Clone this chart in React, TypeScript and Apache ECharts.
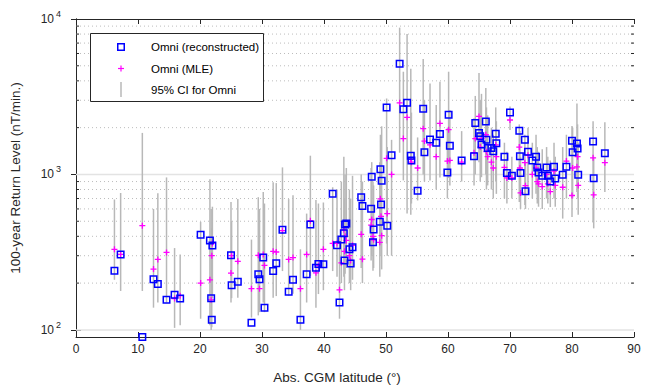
import React, { useEffect, useRef } from 'react';
import * as echarts from 'echarts';

const latitude = [
  6.2, 7.2, 10.7, 12.5, 13.2, 14.6, 15.9, 16.8, 20.1, 21.6, 21.8, 21.9, 22.0, 25.0, 25.1, 26.1,
  28.3, 29.4, 29.6, 30.2, 30.4, 31.8, 32.3, 33.3, 34.3, 35.0, 36.2, 37.2, 37.8, 38.7, 39.1, 39.9,
  41.4, 42.1, 42.5, 42.8, 43.2, 43.3, 43.4, 43.6, 44.1, 44.3, 44.6, 46.0, 46.2, 47.6, 47.7, 47.9,
  48.0, 49.0, 49.1, 49.2, 49.3, 50.1, 50.2, 50.9, 52.2, 52.8, 53.4, 54.0, 54.1, 55.1, 56.0, 56.2,
  57.1, 58.1, 58.7, 59.9, 60.1, 60.3, 62.2, 64.2, 64.4, 65.0, 65.2, 65.4, 66.1, 66.2, 66.4, 67.0,
  67.3, 67.7, 67.8, 69.1, 69.5, 70.0, 70.3, 71.5, 71.6, 71.7, 72.4, 72.5, 72.9, 73.6, 74.2, 74.4,
  74.6, 75.2, 75.9, 76.1, 76.5, 77.1, 77.3, 78.5, 79.1, 80.0, 80.1, 80.8, 80.9, 81.0, 83.4, 83.5,
  85.3,
];
const reconstructed = [
  240, 306, 90, 212, 197, 156, 168, 159, 410, 376, 160, 116, 349, 302, 194, 204,
  111, 228, 212, 292, 139, 239, 268, 440, 176, 210, 116, 228, 476, 251, 265, 264,
  750, 350, 150, 382, 418, 280, 476, 484, 330, 267, 340, 714, 626, 602, 966, 366,
  443, 496, 1080, 640, 912, 2700, 467, 1330, 5150, 2630, 2890, 1320, 1230, 785, 2650, 1390,
  1680, 1600, 1820, 1030, 2420, 1530, 1230, 1310, 2140, 1850, 1760, 1560, 2190, 1670, 1480, 1480,
  1410, 1830, 1590, 1300, 1020, 2500, 980, 1910, 1310, 1020, 1670, 780, 1400, 1230, 1300, 1110,
  1030, 980, 1110, 980, 900, 1120, 940, 995, 1120, 1650, 1390, 1580, 1470, 995, 1630, 945,
  1370,
];
const mle = [
  330, 306, 468, 246, 284, 315, 159, 166, 200, 210, 156, 300, 360, 232, 300, 276,
  184, 302, 184, 306, 260, 320, 317, 435, 284, 292, 184, 306, 504, 233, 260, 330,
  360, 360, 181, 270, 440, 320, 400, 376, 300, 280, 350, 412, 285, 472, 513, 400,
  380, 366, 697, 538, 404, 1270, 560, 1000, 2890, 1700, 2330, 1250, 1200, 1100, 1970, 1640,
  1550, 1300, 2130, 1220, 1940, 1230, 1200, 1380, 1700, 2360, 1500, 1700, 1800, 1400, 1300, 1200,
  1100, 1550, 1300, 1110, 950, 2240, 950, 1500, 1100, 760, 1190, 847, 1330, 1000, 1100, 900,
  870, 835, 1000, 870, 776, 1050, 850, 827, 1220, 732, 1100, 1120, 1300, 850, 1280, 740,
  1190,
];
const ciLow = [
  210, 178, 178, 139, 150, 150, 103, 107, 118, 107, 100, 104, 160, 150, 160, 161,
  120, 124, 130, 150, 130, 161, 165, 239, 166, 171, 100, 150, 222, 139, 170, 180,
  239, 220, 118, 200, 220, 180, 230, 250, 200, 180, 210, 250, 200, 280, 300, 240,
  250, 220, 400, 300, 245, 359, 300, 300, 1380, 916, 560, 550, 650, 680, 1000, 900,
  915, 800, 957, 700, 950, 850, 900, 850, 1000, 1200, 900, 960, 1000, 800, 850, 800,
  700, 900, 750, 700, 650, 1930, 700, 665, 700, 600, 635, 600, 750, 700, 750, 650,
  620, 600, 700, 650, 617, 700, 620, 520, 700, 533, 700, 770, 700, 550, 490, 450,
  770,
];
const ciHigh = [
  690, 760, 1850, 600, 757, 957, 336, 306, 496, 930, 600, 450, 620, 664, 500, 694,
  381, 714, 600, 770, 650, 890, 880, 1110, 694, 736, 330, 560, 1320, 684, 650, 660,
  827, 800, 398, 900, 1300, 700, 1000, 1100, 800, 700, 980, 1000, 900, 1100, 1200, 900,
  850, 1200, 1800, 1600, 2040, 3080, 1500, 1670, 8800, 4580, 8000, 4780, 2500, 1730, 5530, 3000,
  3840, 2800, 3950, 2000, 4580, 2600, 1900, 2300, 3200, 4500, 3000, 3300, 3600, 2700, 2400, 2000,
  1800, 2700, 2200, 1600, 1400, 2740, 1300, 2100, 1900, 1300, 1800, 1200, 2000, 1600, 1800, 1500,
  1400, 1450, 1500, 1300, 1230, 1600, 1300, 1500, 1800, 2050, 2000, 2860, 2100, 1600, 2200, 1300,
  2170,
];

const yMajorTicks = [100, 1000, 10000];
const yMinorTicks = [200, 300, 400, 500, 600, 700, 800, 900, 2000, 3000, 4000, 5000, 6000, 7000, 8000, 9000];

const AXIS = '#262626';
const FONT = '"Liberation Sans", Arial, Helvetica, sans-serif';
const X_MIN = 0;
const X_MAX = 90;
const Y_MIN = 90;
const Y_MAX = 10000;

export default function App() {
  const ref = useRef<HTMLDivElement>(null);
  useEffect(() => {
    const chart = echarts.init(ref.current as HTMLDivElement, null, { renderer: 'svg' });
    const supFmt = (v: number) => {
      const e = Math.round(Math.log10(v));
      if (Math.abs(Math.pow(10, e) - v) > 1e-6 * v) return '';
      return `{b|10}{e|${e}}`;
    };
    const xAxisBase = {
      type: 'value',
      min: X_MIN,
      max: X_MAX,
      interval: 10,
      splitLine: { show: false },
      axisLine: { show: true, onZero: false, lineStyle: { color: AXIS, width: 1 } },
      axisTick: { show: true, inside: true, length: 5, lineStyle: { color: AXIS } },
    };
    const yAxisBase = {
      type: 'log',
      logBase: 10,
      min: Y_MIN,
      max: Y_MAX,
      splitLine: { show: false },
      axisLine: { show: true, lineStyle: { color: AXIS, width: 1 } },
      axisTick: { show: true, inside: true, length: 5, customValues: yMajorTicks, lineStyle: { color: AXIS } },
    };
    const option: any = {
      animation: false,
      backgroundColor: '#fff',
      grid: { left: 74, right: 19, top: 19, bottom: 48, containLabel: false },
      xAxis: [
        {
          ...xAxisBase,
          position: 'bottom',
          name: 'Abs. CGM latitude (°)',
          nameLocation: 'middle',
          nameGap: 33,
          nameTextStyle: { fontSize: 13.5, color: AXIS, fontFamily: FONT, padding: [0, 36, 0, 0] },
          axisLabel: { margin: 6, fontSize: 12, color: AXIS, fontFamily: FONT },
        },
        {
          ...xAxisBase,
          position: 'top',
          axisLabel: { show: false },
        },
      ],
      yAxis: [
        {
          ...yAxisBase,
          position: 'left',
          name: '100-year Return Level (nT/min.)',
          nameLocation: 'middle',
          nameRotate: 90,
          nameGap: 54,
          nameTextStyle: { fontSize: 13.5, color: AXIS, fontFamily: FONT },
          axisLabel: {
            margin: 15,
            customValues: yMajorTicks,
            formatter: supFmt,
            color: AXIS,
            fontFamily: FONT,
            rich: {
              b: { fontSize: 12, color: AXIS, fontFamily: FONT },
              e: { fontSize: 9, color: AXIS, fontFamily: FONT, padding: [0, 0, 10, 2] },
            },
          },
        },
        {
          ...yAxisBase,
          position: 'right',
          axisLabel: { show: false },
        },
      ],
      graphic: [
        { type: 'rect', z: 100, shape: { x: 90.5, y: 33.5, width: 173, height: 68 }, style: { fill: '#fff', stroke: AXIS, lineWidth: 1 } },
        { type: 'rect', z: 101, shape: { x: 117.75, y: 43.75, width: 6.5, height: 6.5 }, style: { fill: 'none', stroke: '#0000ff', lineWidth: 1.5 } },
        { type: 'line', z: 101, shape: { x1: 118, y1: 68.5, x2: 124, y2: 68.5 }, style: { stroke: '#ff00ff', lineWidth: 1.2 } },
        { type: 'line', z: 101, shape: { x1: 121, y1: 65.5, x2: 121, y2: 71.5 }, style: { stroke: '#ff00ff', lineWidth: 1.2 } },
        { type: 'line', z: 101, shape: { x1: 121, y1: 82, x2: 121, y2: 97 }, style: { stroke: '#b8b8b8', lineWidth: 1.5 } },
        { type: 'text', z: 101, x: 151, y: 47, style: { text: 'Omni (reconstructed)', fontSize: 11.5, fontFamily: FONT, fill: '#000', verticalAlign: 'middle' } },
        { type: 'text', z: 101, x: 151, y: 68.5, style: { text: 'Omni (MLE)', fontSize: 11.5, fontFamily: FONT, fill: '#000', verticalAlign: 'middle' } },
        { type: 'text', z: 101, x: 151, y: 89.5, style: { text: '95% CI for Omni', fontSize: 11.5, fontFamily: FONT, fill: '#000', verticalAlign: 'middle' } },
      ],
      series: [
        {
          type: 'custom',
          name: 'grid',
          silent: true,
          z: 1,
          data: [
            ...yMajorTicks.filter((v) => v < Y_MAX).map((v) => [X_MIN, v, 1]),
            ...yMinorTicks.map((v) => [X_MIN, v, 0]),
          ],
          encode: { x: 0, y: 1 },
          renderItem: (_params: any, api: any) => {
            const v = api.value(1);
            const major = api.value(2) === 1;
            const l = api.coord([X_MIN, v]);
            const r = api.coord([X_MAX, v]);
            const children: any[] = [
              {
                type: 'line',
                shape: { x1: l[0], y1: l[1], x2: r[0], y2: r[1] },
                style: major
                  ? { stroke: '#e3e3e3', lineWidth: 1.5 }
                  : { stroke: '#bcbcbc', lineWidth: 1, lineDash: [1, 3] },
              },
            ];
            if (!major) {
              children.push(
                { type: 'line', shape: { x1: l[0], y1: l[1], x2: l[0] + 3, y2: l[1] }, style: { stroke: AXIS, lineWidth: 1 } },
                { type: 'line', shape: { x1: r[0] - 3, y1: r[1], x2: r[0], y2: r[1] }, style: { stroke: AXIS, lineWidth: 1 } },
              );
            }
            return { type: 'group', children };
          },
        },
        {
          type: 'custom',
          name: '95% CI for Omni',
          z: 2,
          data: latitude.map((x, i) => [x, ciLow[i], ciHigh[i]]),
          encode: { x: 0, y: [1, 2] },
          renderItem: (_params: any, api: any) => {
            const a = api.coord([api.value(0), api.value(1)]);
            const b = api.coord([api.value(0), api.value(2)]);
            return {
              type: 'line',
              shape: { x1: a[0], y1: a[1], x2: b[0], y2: b[1] },
              style: { stroke: '#b8b8b8', lineWidth: 1.5 },
            };
          },
        },
        {
          type: 'scatter',
          name: 'Omni (MLE)',
          z: 3,
          symbol: 'path://M2.75,0H4.25V2.75H7V4.25H4.25V7H2.75V4.25H0V2.75H2.75Z',
          symbolSize: 6,
          itemStyle: { color: '#ff00ff', opacity: 1 },
          data: latitude.map((x, i) => [x, mle[i]]),
        },
        {
          type: 'scatter',
          name: 'Omni (reconstructed)',
          z: 4,
          symbol: 'rect',
          symbolSize: 6.5,
          itemStyle: { color: 'rgba(255,255,255,0)', borderColor: '#0000ff', borderWidth: 1.5, opacity: 1 },
          data: latitude.map((x, i) => [x, reconstructed[i]]),
        },
      ],
    };
    chart.setOption(option);
    return () => chart.dispose();
  }, []);
  return (
    <div
      ref={ref}
      style={{ position: 'fixed', left: 0, top: 0, width: 653, height: 389, background: '#fff' }}
    />
  );
}
